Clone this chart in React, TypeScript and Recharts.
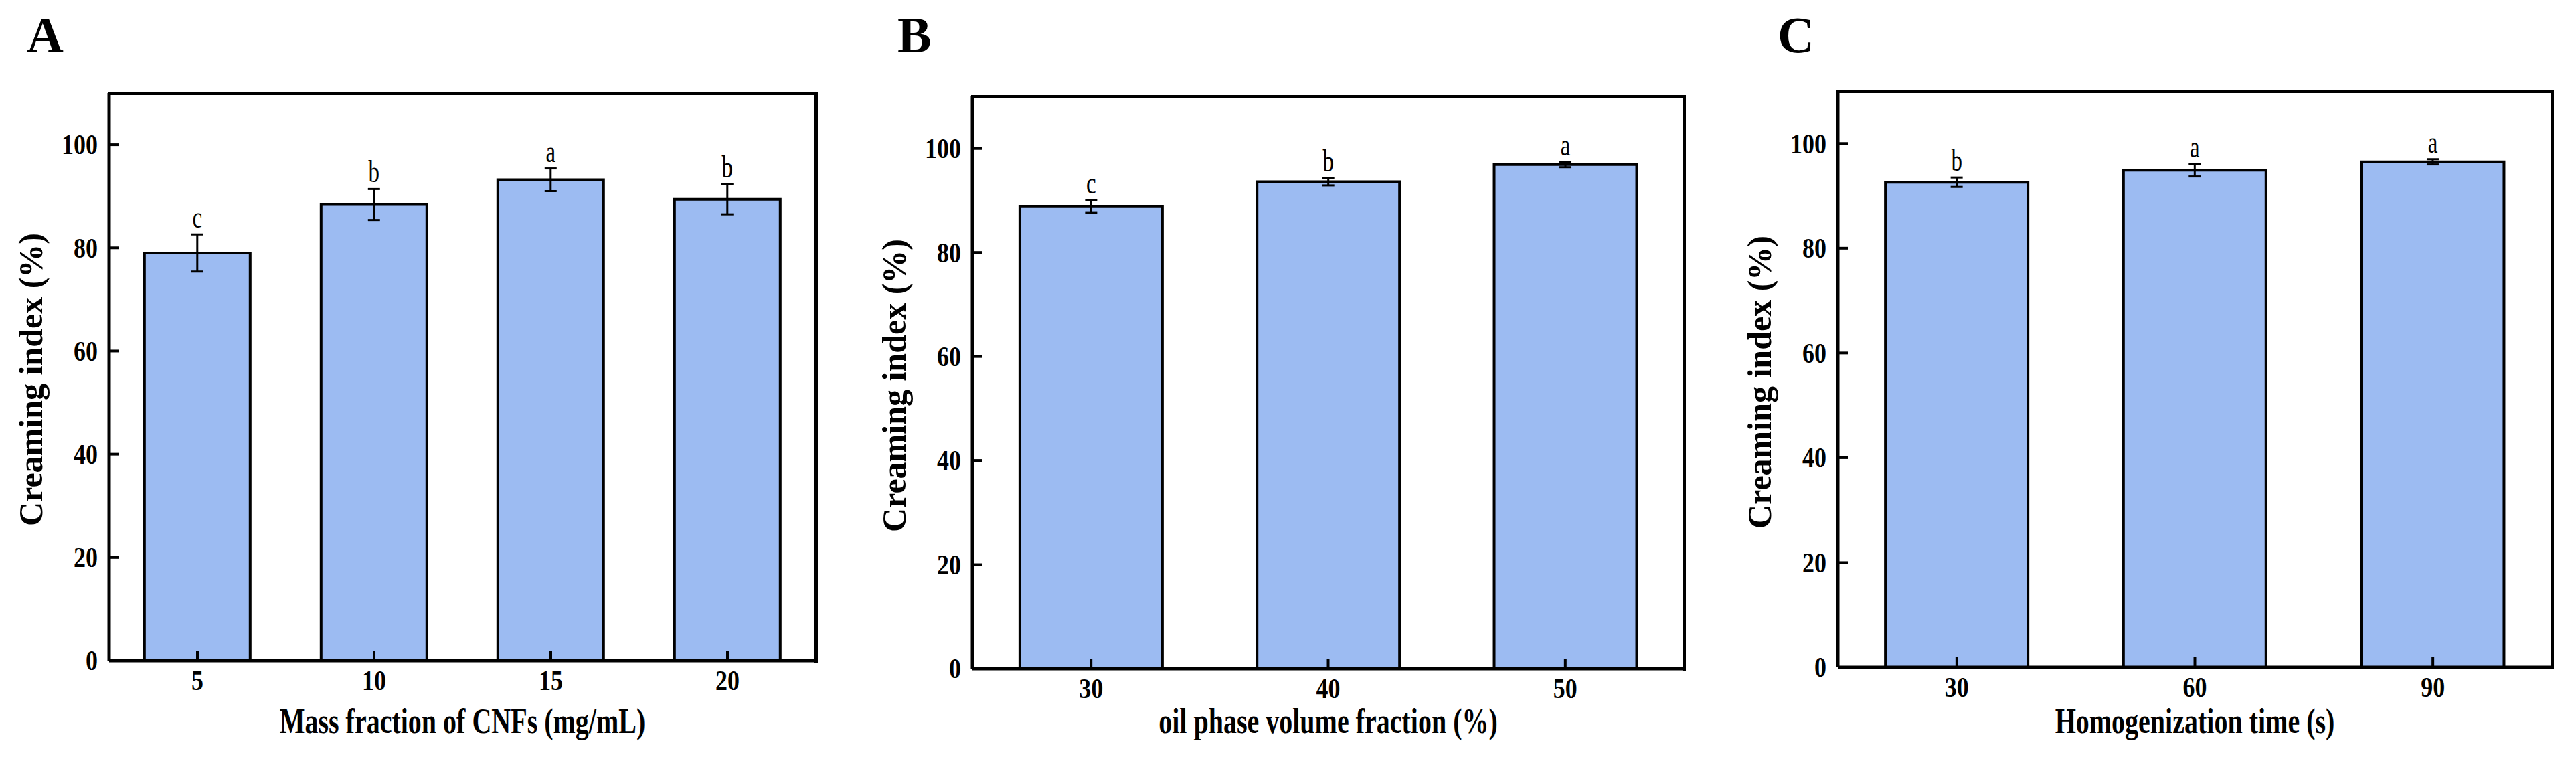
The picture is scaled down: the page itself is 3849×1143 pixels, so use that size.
import React from 'react'
import { ComposedChart, Bar, XAxis, YAxis, ErrorBar, LabelList } from 'recharts'

const SERIF = '"Liberation Serif", "Times New Roman", serif'
const BAR_FILL = '#9cbbf2'

// panel A
const massFractions = ['5', '10', '15', '20']
const massValues = [79.0, 88.4, 93.2, 89.4]
const massErrors = [3.6, 3.0, 2.2, 2.9]
const massLetters = ['c', 'b', 'a', 'b']

// panel B
const oilFractions = ['30', '40', '50']
const oilValues = [88.8, 93.6, 96.9]
const oilErrors = [1.2, 0.7, 0.5]
const oilLetters = ['c', 'b', 'a']

// panel C
const homoTimes = ['30', '60', '90']
const homoValues = [92.6, 94.9, 96.5]
const homoErrors = [0.9, 1.2, 0.5]
const homoLetters = ['b', 'a', 'a']

const yTicks = [0, 20, 40, 60, 80, 100]

const YTick = ({ x, y, payload }: any) => (
  <g>
    <line x1={x} x2={x + 15} y1={y} y2={y} stroke="#000" strokeWidth={4} />
    <text
      transform={`translate(${x - 17},${y}) scale(1,1.15)`}
      textAnchor="end"
      dominantBaseline="central"
      fontFamily={SERIF}
      fontWeight="bold"
      fontSize={36}
      fill="#000"
    >
      {payload.value}
    </text>
  </g>
)

const XTick = ({ x, y, payload }: any) => (
  <g>
    <line x1={x} x2={x} y1={y} y2={y - 15} stroke="#000" strokeWidth={4} />
    <text
      transform={`translate(${x},${y + 30}) scale(1,1.15)`}
      textAnchor="middle"
      dominantBaseline="central"
      fontFamily={SERIF}
      fontWeight="bold"
      fontSize={36}
      fill="#000"
    >
      {payload.value}
    </text>
  </g>
)

function letterLabel(letters: string[], errors: number[]) {
  return (props: any) => {
    const vb = props.viewBox ?? props
    const { x, y, width, height } = vb
    const i = props.index
    const perUnit = height / props.value
    const top = y - errors[i] * perUnit
    return (
      <text
        transform={`translate(${x + width / 2},${top - 10}) scale(1,1.4)`}
        textAnchor="middle"
        fontFamily={SERIF}
        fontSize={33}
        fill="#000"
      >
        {letters[i]}
      </text>
    )
  }
}

interface PanelProps {
  left: number
  width: number
  plotLeft: number
  plotRight: number
  plotTop: number
  plotBottom: number
  cats: string[]
  values: number[]
  errors: number[]
  letters: string[]
  tag: string
  tagX: number
  xTitle: string
}

function Panel(p: PanelProps) {
  const data = p.cats.map((c, i) => ({ cat: c, value: p.values[i], err: p.errors[i] }))
  const yw = p.plotLeft - p.left
  const axisStyle = { stroke: '#000', strokeWidth: 5 }
  const midX = (p.plotLeft + p.plotRight) / 2
  const midY = (p.plotTop + p.plotBottom) / 2
  return (
    <>
      <div style={{ position: 'absolute', left: p.left, top: 0 }}>
        <ComposedChart
          width={p.width}
          height={1143}
          data={data}
          barCategoryGap="20%"
          margin={{ top: p.plotTop, right: p.left + p.width - p.plotRight, bottom: 1143 - p.plotBottom - 60, left: 0 }}
        >
          <Bar dataKey="value" fill={BAR_FILL} stroke="#000" strokeWidth={4} isAnimationActive={false}>
            <ErrorBar dataKey="err" width={9} strokeWidth={3} stroke="#000" direction="y" />
            <LabelList dataKey="value" content={letterLabel(p.letters, p.errors)} />
          </Bar>
          <XAxis
            dataKey="cat"
            height={60}
            interval={0}
            tickSize={0}
            tickMargin={0}
            axisLine={axisStyle}
            tick={(t: any) => <XTick {...t} />}
          />
          <YAxis
            width={yw}
            domain={[0, 110]}
            ticks={yTicks}
            tickSize={0}
            tickMargin={0}
            axisLine={axisStyle}
            tick={(t: any) => <YTick {...t} />}
          />
        </ComposedChart>
      </div>
      {/* top and right sides of the frame */}
      <div
        style={{
          position: 'absolute',
          left: p.plotLeft - 2.5,
          top: p.plotTop - 2.5,
          width: p.plotRight - p.plotLeft + 5,
          height: p.plotBottom - p.plotTop + 5,
          boxSizing: 'border-box',
          borderTop: '5px solid #000',
          borderRight: '5px solid #000',
          pointerEvents: 'none',
        }}
      />
      <div
        style={{
          position: 'absolute',
          left: p.tagX,
          top: 14,
          font: `bold 76px ${SERIF}`,
          color: '#000',
          lineHeight: 1,
        }}
      >
        {p.tag}
      </div>
      <div
        style={{
          position: 'absolute',
          left: p.plotLeft - 117,
          top: midY + 4,
          transform: 'translate(-50%,-50%) rotate(-90deg)',
          font: `bold 50px ${SERIF}`,
          whiteSpace: 'nowrap',
          color: '#000',
        }}
      >
        Creaming index (%)
      </div>
      <div
        style={{
          position: 'absolute',
          left: midX,
          top: 1077,
          transform: 'translate(-50%,-50%) scaleY(1.3)',
          font: `bold 40px ${SERIF}`,
          whiteSpace: 'nowrap',
          color: '#000',
        }}
      >
        {p.xTitle}
      </div>
    </>
  )
}

export default function App() {
  return (
    <div style={{ position: 'absolute', left: 0, top: 0, width: 3849, height: 1143, background: '#fff', overflow: 'hidden' }}>
      <Panel
        left={0}
        width={1300}
        plotLeft={163}
        plotRight={1219}
        plotTop={139}
        plotBottom={987}
        cats={massFractions}
        values={massValues}
        errors={massErrors}
        letters={massLetters}
        tag="A"
        tagX={40}
        xTitle="Mass fraction of CNFs (mg/mL)"
      />
      <Panel
        left={1300}
        width={1300}
        plotLeft={1453}
        plotRight={2516}
        plotTop={144}
        plotBottom={999}
        cats={oilFractions}
        values={oilValues}
        errors={oilErrors}
        letters={oilLetters}
        tag="B"
        tagX={1341}
        xTitle="oil phase volume fraction (%)"
      />
      <Panel
        left={2600}
        width={1249}
        plotLeft={2746}
        plotRight={3813}
        plotTop={136}
        plotBottom={997}
        cats={homoTimes}
        values={homoValues}
        errors={homoErrors}
        letters={homoLetters}
        tag="C"
        tagX={2656}
        xTitle="Homogenization time (s)"
      />
    </div>
  )
}
